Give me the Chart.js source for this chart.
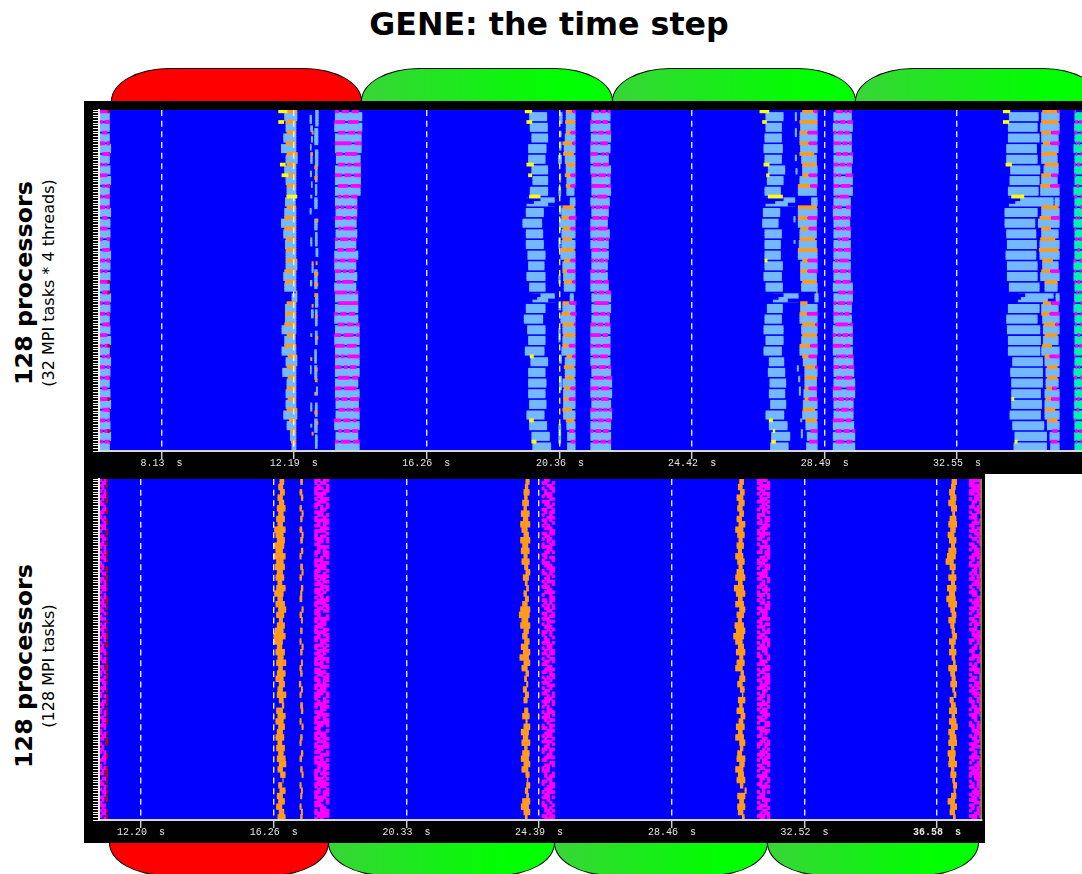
<!DOCTYPE html>
<html><head><meta charset="utf-8">
<style>
html,body{margin:0;padding:0;background:#fff;width:1082px;height:874px;overflow:hidden}
canvas{position:absolute;background:#000}
.t{position:absolute;font-family:"DejaVu Sans";color:#000;white-space:nowrap}
.rot{transform:translate(-50%,-50%) rotate(-90deg)}
.tab{position:absolute;box-sizing:border-box;border:1px solid #000}
</style>
<script src="https://cdn.jsdelivr.net/npm/chart.js@4/dist/chart.umd.js"></script>
</head><body>
<div class="t" style="left:549px;top:24px;transform:translate(-50%,-50%);font-size:31.7px;font-weight:bold">GENE: the time step</div>
<div class="t rot" style="left:24px;top:282.5px;font-size:23.8px;font-weight:bold">128 processors</div>
<div class="t rot" style="left:48px;top:283px;font-size:16px">(32 MPI tasks * 4 threads)</div>
<div class="t rot" style="left:24px;top:666px;font-size:23.8px;font-weight:bold">128 processors</div>
<div class="t rot" style="left:48px;top:666px;font-size:16px">(128 MPI tasks)</div>
<canvas id="top" width="998" height="373" style="left:84px;top:101px"></canvas>
<canvas id="bot" width="901" height="369" style="left:84px;top:474px"></canvas>
<script>
// ---- axis values (seconds) ----
const topTicks=[8.13,12.19,16.26,20.36,24.42,28.49,32.55];
const botTicks=[12.20,16.26,20.33,24.39,28.46,32.52,36.58];
const topPhases=[6.58,14.25,21.96,29.42,36.94];
const botPhases=[11.22,17.93,24.85,31.37,37.84];
const phaseNames=['red','green','green','green'];
// ---- durations are stored as offsets from a base time, in units of U seconds ----
const U=0.01023;
const baseA=5.63, baseB=11.52, baseE=19.14, baseH=26.50, baseK=33.87;
// top trace: one entry per MPI task (32), left and right end of the 3-thread block
const aR=[88,88,88,92,88,90,92,88,88,92,90,90,88,92,90,90,88,92,90,88,90,92,88,92,90,88,90,92,88,90,92,88];
const bL=[38,42,35,28,42,38,42,45,40,38,28,35,40,42,42,35,38,60,40,40,30,38,30,42,32,45,42,42,35,45,55,60];
const bR=[75,72,72,72,76,72,72,72,70,72,72,72,72,72,75,72,72,75,72,72,72,70,72,75,72,72,72,72,75,72,72,72];
const bH=[45,42,45,42,45,45,48,45,45,45,38,38,42,42,42,38,40,72,45,40,38,45,38,48,45,48,45,48,45,52,55,58];
const dL=[190,188,190,190,193,190,190,190,190,192,190,192,190,188,188,190,188,190,190,188,190,188,190,190,190,190,190,192,192,188,192,190];
const dR=[270,270,268,268,265,266,266,265,255,255,253,255,252,258,252,255,252,258,258,258,262,262,262,262,262,258,262,260,262,262,258,262];
const eL=[28,30,35,25,25,35,38,30,20,18,8,18,18,23,25,20,28,38,18,12,22,25,15,32,25,25,25,28,20,28,35,38];
const eR=[80,82,83,78,75,83,83,83,103,70,65,68,70,75,72,75,75,103,75,68,75,75,72,83,75,78,75,78,72,80,88,92];
const fL=[138,138,135,132,135,138,140,140,150,125,122,125,125,122,128,130,132,150,128,122,128,128,125,135,135,128,130,130,130,140,142,142];
const fR=[165,165,165,165,165,165,165,162,165,165,165,165,165,165,165,165,165,160,165,165,165,165,165,165,165,165,165,165,165,165,165,165];
const fO0=[138,136,138,128,130,138,135,138,140,128,125,128,128,122,132,128,132,160,128,125,128,130,128,140,132,135,132,130,128,138,145,150];
const fO1=[155,165,150,155,160,165,150,150,140,162,145,150,155,162,150,140,155,160,147,150,160,165,145,155,162,162,150,145,155,162,145,150];
const fM1=[165,165,165,165,162,165,165,165,140,162,168,165,155,162,165,165,165,160,168,168,165,165,165,165,162,162,165,165,155,162,162,165];
const gL=[215,212,213,212,212,212,215,215,212,215,212,212,212,215,215,212,212,215,215,215,212,212,212,212,215,212,212,215,212,212,212,212];
const gR=[270,270,272,270,265,272,270,272,268,265,262,268,265,265,262,262,265,272,272,268,270,270,270,270,272,275,275,272,275,272,272,272];
const hL=[18,18,15,12,15,25,22,15,18,10,8,15,15,15,15,12,18,40,22,15,12,18,12,28,25,30,28,32,18,28,35,32];
const hR=[70,65,65,68,65,75,70,62,105,60,55,65,62,62,68,65,68,115,68,65,70,70,65,72,75,78,75,78,72,82,90,85];
const iL=[122,122,120,122,125,128,120,115,155,115,115,120,118,115,122,122,125,165,122,120,125,125,120,130,135,135,132,130,128,138,142,140];
const iR=[172,172,172,172,170,172,172,170,172,172,170,170,170,172,172,170,172,175,172,172,172,172,172,170,172,170,170,172,172,172,172,172];
const iO0=[128,120,120,120,120,128,128,115,172,115,115,122,120,115,128,122,128,170,122,120,128,128,120,128,135,135,135,135,130,138,150,145];
const iO1=[160,172,142,145,162,170,145,150,172,170,142,145,165,172,142,142,170,172,142,140,165,170,150,145,165,170,145,145,165,170,150,145];
const iM1=[172,172,172,170,162,170,170,172,172,170,172,170,165,172,172,172,170,172,142,172,172,170,172,170,172,170,170,172,165,170,172,172];
const jL=[222,220,222,222,222,222,222,222,222,220,222,222,222,222,220,222,220,222,222,222,220,220,220,222,222,222,220,222,222,220,220,220];
const jR=[275,278,275,275,278,275,278,278,272,272,270,272,272,272,272,272,278,278,275,275,278,278,278,280,282,285,285,280,280,282,285,285];
const kL=[28,25,25,20,20,32,30,25,28,15,15,20,22,18,22,22,28,55,25,20,22,25,25,38,32,35,35,35,30,38,45,42];
const kR=[115,112,118,110,112,120,118,115,160,112,105,108,110,108,112,112,118,160,118,112,120,122,120,128,128,128,122,125,122,132,140,140];
const lL=[125,122,125,125,125,132,125,122,165,125,115,125,120,120,128,122,135,168,125,128,130,130,125,135,138,138,135,135,135,142,150,152];
const lR=[178,178,175,175,172,175,172,178,178,178,178,175,178,178,175,178,172,178,175,178,178,175,178,178,178,175,178,178,178,178,178,178];
const lO0=[128,125,125,130,125,135,125,122,178,125,120,125,122,118,128,125,135,178,130,125,132,135,128,135,142,142,140,138,135,142,155,150];
const lO1=[170,175,152,150,170,175,152,150,178,175,152,152,165,175,158,150,172,178,152,148,165,172,155,148,172,172,155,152,165,172,155,150];
const lM1=[178,175,178,178,170,175,172,178,178,175,178,152,165,175,158,178,172,178,178,178,175,172,155,178,172,172,170,178,165,172,172,172];
const mL=[225,224,225,222,225,224,225,222,225,224,222,225,224,225,222,222,225,224,222,225,224,225,224,225,222,224,225,224,222,225,224,225];
// header-row colour cells: bits of a task's first thread (left cell = high bit)
const hdrA=[14,11,6,13,7,10,14,5,11,13,6,14,9,7,13,10,14,6,11,13,7,14,10,5,13,11,6,14,7,13,10,11];
const hdrD=[182,238,109,251,222,107,219,119,91,173,237,94,187,110,183,214,94,245,127,182,109,221,238,175,214,123,222,183,107,218,91,187];
const hdrG=[109,182,91,174,229,118,221,253,94,183,119,222,93,246,173,214,187,91,126,109,219,246,183,110,221,123,238,174,213,91,182,109];
const hdrJ=[117,91,182,237,109,219,167,222,94,179,237,107,46,183,94,221,110,59,187,214,125,173,246,91,219,110,231,181,93,246,109,118];
const hdrM=[129,102,195,36,66,153,129,24,195,66,36,129,102,24,195,66,153,36,129,195,66,24,102,129,36,195,66,153,24,129,102,66];
const hdrAred=[1,0,0,1,1,0,0,1,1,1,0,0,1,0,1,0,1,1,0,1,1,0,1,1,0,1,0,1,1,0,1,0];
// yellow wait states: [task, from, to]
const yellowB=[[0,20,45],[1,20,35],[5,25,40],[6,30,48],[8,45,75]];
const yellowE=[[0,15,35],[1,20,35],[5,20,40],[6,25,35],[8,28,60],[23,30,40],[29,28,40],[31,35,48]];
const yellowH=[[0,0,27],[1,8,20],[5,12,28],[6,20,28],[8,25,68],[14,15,22],[29,28,38],[30,40,45],[31,35,47]];
const yellowK=[[0,10,30],[1,10,27],[5,18,35],[8,35,72],[27,35,42],[31,45,52]];
// isolated thread fragments: [first thread, last thread, from, to]
const specksC=[[2,4,114,119],[6,7,116,122],[10,11,118,122],[13,14,115,118],[17,19,116,121],[23,24,115,119],[27,28,118,121],[32,32,116,120],[37,38,114,118],[48,50,116,120],[58,60,120,124],[64,65,115,120],[75,77,118,124],[84,84,116,120],[96,98,115,118],[110,112,116,120],[118,118,116,120],[0,5,131,139],[7,12,128,138],[15,20,130,138],[21,26,130,136],[28,31,130,135],[33,36,128,136],[41,44,128,136],[46,50,130,136],[52,54,132,138],[60,66,128,136],[69,73,130,138],[75,80,130,136],[83,87,130,136],[90,94,128,134],[96,100,128,135],[104,106,133,137],[110,114,130,136],[116,120,128,136],[122,126,130,136]];
const orangeC=[[8,120,124],[16,116,122],[21,128,135],[25,128,135],[41,132,138],[57,120,124],[57,132,136],[61,128,138],[65,128,138],[69,128,136],[73,120,124],[77,130,136],[85,132,138],[93,116,120],[97,132,136],[101,130,136],[106,128,132],[113,128,135],[117,132,138],[121,120,124]];
const specksF=[[1,4,118,126],[8,9,118,123],[12,14,118,123],[17,19,115,124],[24,26,118,122],[29,31,116,122],[36,38,118,123],[41,44,118,122],[48,51,116,120],[62,64,116,120],[72,74,116,122],[82,86,116,120],[92,94,118,124],[100,104,118,124],[118,124,116,122]];
const specksH=[[1,3,106,110],[7,9,106,110],[17,18,106,110],[22,23,108,112],[40,41,102,106],[49,49,102,106],[96,97,112,116],[100,101,116,120],[104,106,118,122],[116,116,122,126],[120,122,124,128]];
// notches where the block of the tasks 8 and 17 does not reach: [thread, from, to]
const notchE=[[33,15,60],[34,15,40],[35,85,105],[69,30,60],[70,30,50],[71,85,105]];
const notchH=[[33,15,70],[34,15,45],[35,85,110],[69,35,70],[70,35,55],[71,85,118]];
const notchK=[[33,25,60],[34,25,45],[69,50,75],[70,50,62],[71,145,165]];

// bottom trace: two-thread steps (64 entries) for the orange bands
const base2A=10.64, base2B=23.66;
const o1L=[568,564,569,562,566,560,564,558,562,552,556,560,552,556,550,558,554,560,556,562,558,552,562,556,564,558,566,560,554,550,552,560,556,562,558,564,560,556,566,562,560,566,575,558,562,556,564,560,556,562,558,564,560,566,562,570,577,564,568,560,564,558,566,562];
const o1R=[580,577,582,576,580,584,578,582,576,584,578,582,580,576,584,578,582,576,580,574,584,578,576,582,586,580,576,582,578,584,576,574,582,578,586,576,584,578,582,576,586,578,580,576,584,578,582,576,580,574,582,578,584,586,576,584,578,574,584,576,582,574,580,584];
const o0L=[630,0,628,632,0,628,634,630,0,628,634,630,0,632,628,0,630,634,628,0,632,630,628,0,634,628,632,0,630,0,628,634,630,0,632,628,630,0,626,632,628,0,630,632,0,628,634,0,630,628,0,632,628,0,630,634,0,628,632,630,0,628,632,630];
const o0R=[636,0,634,637,0,633,638,635,0,634,638,636,0,637,632,0,636,638,633,0,637,634,634,0,638,633,636,0,635,0,632,638,635,0,636,632,635,0,631,636,632,0,636,637,0,632,638,0,635,632,0,637,633,0,635,638,0,632,636,634,0,632,636,635];
const o2L=[32,30,26,28,22,26,18,24,16,20,26,16,22,18,26,20,28,32,24,30,34,26,30,22,16,12,20,16,26,22,28,18,24,14,26,20,32,28,34,24,30,26,32,28,22,32,26,18,24,20,28,22,18,26,20,32,36,34,30,34,22,18,26,30];
const o2R=[42,38,42,36,40,34,42,38,44,36,40,44,38,42,36,42,38,44,40,36,40,34,40,36,44,42,38,44,40,36,42,38,44,40,44,36,40,34,38,34,40,36,32,38,42,36,44,40,38,44,36,42,40,44,38,42,38,44,38,40,44,40,44,36];
const o3L=[672,668,674,664,670,666,672,664,670,660,666,670,664,668,660,666,670,664,660,668,656,662,668,660,672,664,668,658,662,654,660,668,662,672,664,660,676,672,666,674,680,668,672,664,676,670,662,668,660,672,674,666,664,672,660,668,664,674,688,666,672,666,668,680];
const o3R=[684,680,686,682,686,680,684,678,688,682,686,680,684,678,682,686,680,684,688,680,684,688,680,684,688,684,678,684,688,684,680,684,688,682,686,680,684,688,680,686,682,688,680,684,688,682,686,680,684,688,682,678,688,686,682,684,688,682,692,688,684,688,682,686];
const o4L=[1308,1306,1300,1304,1298,1306,1310,1302,1298,1304,1296,1300,1306,1298,1294,1290,1302,1308,1298,1306,1294,1300,1292,1298,1304,1308,1298,1304,1308,1310,1300,1306,1300,1308,1312,1298,1304,1308,1304,1310,1314,1302,1306,1300,1308,1300,1306,1298,1302,1298,1306,1296,1300,1298,1306,1304,1310,1312,1314,1306,1296,1304,1302,1312];
const o4R=[1322,1318,1316,1320,1318,1322,1316,1320,1322,1318,1314,1320,1316,1320,1318,1312,1318,1314,1320,1316,1320,1316,1318,1322,1316,1320,1318,1314,1316,1322,1318,1314,1320,1316,1318,1322,1316,1318,1322,1316,1320,1312,1318,1322,1316,1320,1324,1316,1320,1322,1314,1318,1316,1322,1314,1320,1316,1322,1318,1320,1316,1322,1316,1318];
// bottom trace: magenta cells, one mask per thread (128), left cell = high bit
const m1=[27,22,9,29,19,30,12,23,14,25,21,6,28,13,18,31,
11,26,7,30,17,22,29,13,24,15,10,27,19,5,28,23,
30,14,25,18,31,22,11,28,7,29,26,12,21,15,30,19,
13,27,24,9,31,22,14,28,19,30,11,25,23,6,29,18,
15,26,12,31,21,28,7,24,30,13,19,27,10,31,22,14,
29,25,18,11,30,23,6,28,15,26,19,31,13,24,9,30,
22,27,14,19,31,12,25,7,28,21,30,15,11,26,23,18,
29,14,31,22,9,27,19,30,13,25,28,6,23,31,15,20];
const m2=[12,25,6,19,9,14,22,3,28,13,6,25,11,18,7,26,
9,20,14,3,27,12,22,5,19,30,6,13,24,11,17,28,
14,7,19,26,5,12,23,9,28,6,15,18,3,27,10,21,
13,6,25,11,28,7,20,14,5,26,18,9,12,29,6,22,
11,27,4,19,13,24,6,15,26,3,21,10,28,7,18,12,
25,5,14,29,9,20,6,23,13,28,11,4,19,26,7,14,
22,9,30,5,12,27,18,6,15,24,3,13,20,28,9,11,
6,26,19,7,14,23,12,29,4,18,25,10,13,6,27,15];
const m3=[30,25,15,27,12,23,9,14,29,6,13,22,5,28,19,11,
26,7,14,20,31,12,25,6,18,15,9,27,3,13,22,28,
11,19,6,30,14,25,5,12,26,7,18,29,9,20,13,3,
27,14,22,6,15,24,11,28,5,19,12,26,7,21,13,30,
6,18,25,9,14,28,3,23,12,19,7,27,11,14,29,6,
20,13,25,5,30,9,22,14,7,26,12,19,3,28,15,10,
24,6,13,27,18,5,14,29,11,22,7,25,12,19,6,30,
13,9,26,15,4,21,12,28,7,18,14,25,6,11,29,13];
const m4=[31,25,31,15,30,27,7,22,13,9,26,6,19,12,28,5,
14,24,11,29,7,18,13,3,25,12,22,6,14,27,9,19,
30,5,13,21,11,26,6,15,18,9,28,12,3,23,14,7,
29,10,19,6,25,13,22,4,28,11,15,7,26,18,5,13,
24,9,14,27,3,20,12,30,6,17,13,25,7,22,11,28,
14,5,19,26,9,13,23,6,29,12,4,18,27,11,14,7,
21,13,6,28,15,24,5,12,30,9,19,7,26,14,31,23,
6,19,11,27,5,14,22,13,28,7,25,10,18,6,29,12];
const a2=[11,6,13,4,10,3,14,5,9,12,2,7,13,8,10,5,3,14,6,9,1,12,7,4,13,10,2,11,5,14,3,8,
12,5,9,6,1,13,10,3,14,7,8,2,11,5,13,6,9,12,3,8,14,1,10,6,13,4,7,11,2,9,5,12,
14,3,8,11,6,1,13,5,10,9,3,12,7,2,14,5,8,11,1,6,13,4,9,10,3,12,7,5,14,2,8,11,
6,13,1,9,4,12,10,3,7,14,2,8,11,5,13,1,6,9,12,3,10,7,2,13,5,8,14,4,11,6,9,3];

// ---- colours ----
const LIGHT='#74b9ff',BLUE='#0000ff',ORANGE='#ff9a1c',MAG='#ff00ff',YEL='#ffff00',RED='#c80000',AQUA='#00f2b0',OLIVE='#8f8f20';
const rows=Array.from({length:128},(_,i)=>String(i+1));
const seg=(list,row,base,a,b)=>{ if(b>a) list.push({x:[base+a*U,base+b*U],y:rows[row]}); };

function block(list,base,L,R){L.forEach((l,k)=>{for(let r=1;r<4;r++)seg(list,4*k+r,base,l,R[k]);});}
function cells(list,row,base,from,width,mask,n){for(let c=0;c<n;c++) if(mask>>(n-1-c)&1) seg(list,row,base,from+c*width,from+(c+1)*width);}

// ---- top trace ----
const tLight=[],tAqua=[],tNotch=[],tOrange=[],tMag=[],tYel=[],tRed=[];
block(tLight,baseA,aR.map(()=>60),aR);
block(tLight,baseB,bL,bR);block(tLight,baseB,dL,dR);
block(tLight,baseE,eL,eR);block(tLight,baseE,fL,fR);block(tLight,baseE,gL,gR);
block(tLight,baseH,hL,hR);block(tLight,baseH,iL,iR);block(tLight,baseH,jL,jR);
block(tLight,baseK,kL,kR);block(tLight,baseK,lL,lR);
block(tAqua,baseK,mL,mL.map(()=>260));
specksC.forEach(([a,b,f,t])=>{for(let r=a;r<=b;r++)seg(tLight,r,baseB,f,t);});
specksF.forEach(([a,b,f,t])=>{for(let r=a;r<=b;r++)seg(tLight,r,baseE,f,t);});
specksH.forEach(([a,b,f,t])=>{for(let r=a;r<=b;r++)seg(tLight,r,baseH,f,t);});
notchE.forEach(([r,f,t])=>seg(tNotch,r,baseE,f,t));
notchH.forEach(([r,f,t])=>seg(tNotch,r,baseH,f,t));
notchK.forEach(([r,f,t])=>seg(tNotch,r,baseK,f,t));
bH.forEach((o,k)=>seg(tOrange,4*k,baseB,o,bR[k]));
orangeC.forEach(([r,f,t])=>seg(tOrange,r,baseB,f,t));
[[fO0,fO1,fM1,baseE],[iO0,iO1,iM1,baseH],[lO0,lO1,lM1,baseK]].forEach(([o0,o1,m,b])=>o0.forEach((v,k)=>{
  seg(tOrange,4*k,b,v,o1[k]); seg(tMag,4*k,b,o1[k]+3,m[k]);
}));
hdrA.forEach((m,k)=>{cells(tMag,4*k,baseA,60,7,m,4); if(hdrAred[k]) seg(tRed,4*k,baseA,81,88);});
hdrD.forEach((m,k)=>cells(tMag,4*k,baseB,dL[k],(dR[k]-dL[k])/8,m,8));
hdrG.forEach((m,k)=>cells(tMag,4*k,baseE,gL[k],(gR[k]-gL[k])/8,m,8));
hdrJ.forEach((m,k)=>cells(tMag,4*k,baseH,jL[k],(jR[k]-jL[k])/8,m,8));
hdrM.forEach((m,k)=>cells(tMag,4*k,baseK,mL[k],3,m,8));
[[yellowB,baseB],[yellowE,baseE],[yellowH,baseH],[yellowK,baseK]].forEach(([l,b])=>l.forEach(([k,f,t])=>seg(tYel,4*k,b,f,t)));

// ---- bottom trace ----
const bOrange=[],bMag=[],bRed=[],bOlive=[];
const two=(L,R,base)=>L.forEach((l,i)=>{seg(bOrange,2*i,base,l,R[i]);seg(bOrange,2*i+1,base,l,R[i]);});
two(o1L,o1R,base2A);two(o0L,o0R,base2A);two(o2L,o2R,base2B);two(o3L,o3R,base2B);two(o4L,o4R,base2B);
m1.forEach((m,r)=>cells(bMag,r,base2A,672,8.6,m,5));
m2.forEach((m,r)=>cells(bMag,r,base2B,80,7.6,m,5));
m3.forEach((m,r)=>cells(bMag,r,base2B,725,7.5,m,5));
m4.forEach((m,r)=>cells(bMag,r,base2B,1360,7.6,m,5));
a2.forEach((m,r)=>{cells(bMag,r,base2A,30,5.5,m>>1,3); if(m&1) seg(bRed,r,base2A,46,52);});
rows.forEach((_,r)=>seg(bOlive,r,base2B,1394,1398));

// ---- charts ----
const bluePlugin={id:'traceBg',beforeDatasetsDraw(c){const a=c.chartArea;c.ctx.save();c.ctx.fillStyle=BLUE;c.ctx.fillRect(a.left,a.top,a.right-a.left,a.bottom-a.top);c.ctx.restore();}};
function mk(id,ticks,min,max,padT,padR,sets){
  return new Chart(document.getElementById(id),{
    type:'bar',
    // Chart.js paints the first dataset last, so the list is given bottom layer last
    data:{labels:rows,datasets:sets.slice().reverse().map(([data,color])=>({data,backgroundColor:color,borderWidth:0,stack:'s',grouped:false,barThickness:3.1}))},
    plugins:[bluePlugin],
    options:{indexAxis:'y',responsive:false,animation:false,events:[],
      layout:{padding:{top:padT,right:padR,left:0,bottom:0}},
      plugins:{legend:{display:false},title:{display:false},tooltip:{enabled:false}},
      scales:{
        x:{type:'linear',position:'bottom',min,max,stacked:false,
          afterFit(s){s.height=23;},
          afterBuildTicks(s){s.ticks=ticks.map(v=>({value:v}));},
          grid:{color:'rgba(255,255,255,.92)',lineWidth:1.4,z:1,tickColor:'#ccc',tickWidth:1.5,tickLength:8,tickBorderDash:[]},
          border:{color:'#d8d8d8',width:2,dash:[6,4.66],z:2},
          ticks:{autoSkip:false,maxRotation:0,padding:-2,color:'#e4e4e4',
            font:c=>({family:'"Liberation Mono"',size:10,weight:(c.tick&&c.tick.value===36.58)?'bold':'normal'}),
            callback:v=>v.toFixed(2)+'  s'}},
        y:{type:'category',position:'left',
          afterFit(s){s.width=15;},
          grid:{drawOnChartArea:false,tickColor:'#fff',tickWidth:1,tickLength:6},
          border:{color:'#fff',width:2,z:2},
          ticks:{display:false,autoSkip:false}}
      }}
  });
}
const cTop=mk('top',topTicks,6.21,36.39,9,0,[[tLight,LIGHT],[tAqua,AQUA],[tNotch,BLUE],[tOrange,ORANGE],[tRed,RED],[tMag,MAG],[tYel,YEL]]);
const cBot=mk('bot',botTicks,10.91,37.96,5,3,[[bRed,RED],[bMag,MAG],[bOrange,ORANGE],[bOlive,OLIVE]]);

// ---- phase tabs positioned through the charts' time scales ----
function tabs(chart,bounds,canvasLeft,y,h,isTop){
  bounds.slice(0,-1).forEach((t,i)=>{
    const l=canvasLeft+chart.scales.x.getPixelForValue(t), r=canvasLeft+chart.scales.x.getPixelForValue(bounds[i+1]);
    const d=document.createElement('div');d.className='tab';
    d.style.cssText=`left:${l}px;top:${y}px;width:${r-l+1}px;height:${h}px;`+
      (isTop?'border-radius:58px 58px 0 0/33px 33px 0 0;':'border-radius:0 0 58px 58px/0 0 33px 33px;')+
      (phaseNames[i]==='red'?'background:#ff0000':'background:linear-gradient(90deg,#38d538,#00ff00 80%)');
    document.body.appendChild(d);
  });
}
tabs(cTop,topPhases,84,68,35,true);
tabs(cBot,botPhases,84,841,35,false);
document.getElementById('top').style.zIndex=2;document.getElementById('bot').style.zIndex=2;
</script>
</body></html>
